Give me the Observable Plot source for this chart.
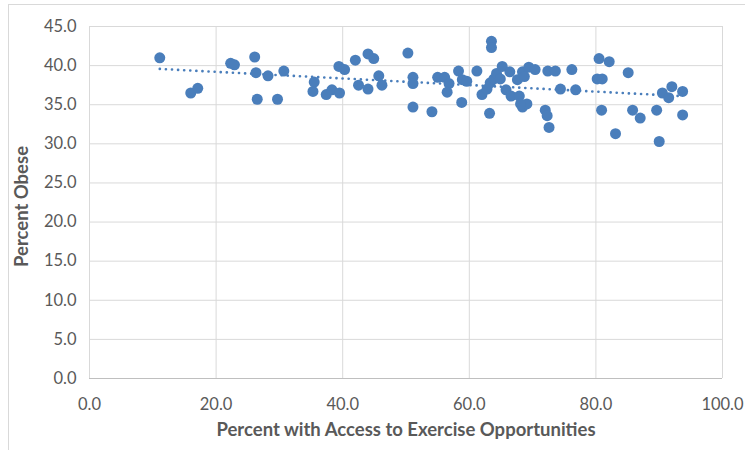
<!DOCTYPE html>
<html>
<head>
<meta charset="utf-8">
<script src="https://cdn.jsdelivr.net/npm/d3@7"></script>
<script src="https://cdn.jsdelivr.net/npm/@observablehq/plot@0.6"></script>
<style>
  html, body { margin: 0; padding: 0; background: #fff; overflow: hidden; }
  #wrap { position: relative; width: 745px; height: 450px; overflow: hidden; }
  #border { position: absolute; left: 8px; top: 4px; width: 800px; height: 500px; border: 1px solid #d9d9d9; box-sizing: border-box; }
  #chart { position: absolute; left: 0; top: 0; }
</style>
</head>
<body>
<div id="wrap"><div id="border"></div><div id="chart"></div></div>
<script>
const xAccess = [11.1,16.0,17.1,22.3,22.9,26.1,26.3,26.5,28.2,29.7,30.7,35.5,35.3,37.4,38.3,39.5,39.4,40.3,42.0,42.5,
  44.0,44.0,44.9,45.7,46.2,50.3,51.1,51.1,51.1,54.1,55.0,56.1,56.8,56.5,58.3,58.8,58.9,59.6,61.2,62.0,
  63.2,63.5,63.5,62.8,63.3,63.9,64.3,65.2,64.9,65.8,66.4,66.6,67.6,67.9,68.4,68.4,68.7,69.1,69.4,70.4,
  72.4,73.6,72.0,72.3,72.6,74.4,76.2,76.8,80.5,82.1,80.2,81.0,85.1,80.9,83.1,85.8,87.0,89.6,90.0,90.5,
  91.5,92.0,93.7,93.7,68.1];
const yObese = [41.0,36.5,37.1,40.3,40.1,41.1,39.1,35.7,38.7,35.7,39.3,37.9,36.7,36.3,36.9,36.5,39.9,39.5,40.7,37.5,
  41.5,37.0,40.9,38.7,37.5,41.6,38.5,37.7,34.7,34.1,38.5,38.5,37.7,36.6,39.3,35.3,38.2,38.0,39.3,36.3,
  33.9,43.1,42.3,37.0,37.8,38.3,39.0,39.9,38.3,36.9,39.2,36.1,38.2,36.1,39.2,34.7,38.6,35.1,39.8,39.5,
  39.3,39.3,34.3,33.6,32.1,37.0,39.5,36.9,40.9,40.5,38.3,38.3,39.1,34.3,31.3,34.3,33.3,34.3,30.3,36.5,
  35.9,37.3,36.7,33.7,35.1];
const xTicks = [0, 20, 40, 60, 80, 100];
const yTicks = [0, 5, 10, 15, 20, 25, 30, 35, 40, 45];
const xTitle = "Percent with Access to Exercise Opportunities";
const yTitle = "Percent Obese";

const data = xAccess.map((x, i) => ({x, y: yObese[i]}));
const fmt = d => d.toFixed(1);
const blue = "#4a7ebb";

const chart = Plot.plot({
  width: 745,
  height: 450,
  marginLeft: 89,
  marginRight: 23,
  marginTop: 26,
  marginBottom: 72,
  style: {fontFamily: "Lato, 'Open Sans', sans-serif", fontSize: "16.5px", color: "#595959", background: "transparent", overflow: "visible"},
  x: {domain: [0, 100]},
  y: {domain: [0, 45]},
  marks: [
    Plot.gridX(xTicks, {stroke: "#d9d9d9", strokeOpacity: 1}),
    Plot.gridY(yTicks, {stroke: "#d9d9d9", strokeOpacity: 1}),
    Plot.ruleY([0], {stroke: "#bfbfbf"}),
    Plot.axisX(xTicks, {tickSize: 0, tickPadding: 20, tickFormat: fmt, label: null, fill: "#595959"}),
    Plot.axisY(yTicks, {tickSize: 0, tickPadding: 13, tickFormat: fmt, label: null, fill: "#595959"}),
    Plot.linearRegressionY(data, {x: "x", y: "y", ci: 0, stroke: blue, strokeWidth: 2.6, strokeDasharray: "0.1 6", strokeLinecap: "round"}),
    Plot.dot(data, {x: "x", y: "y", r: 5.5, fill: blue, stroke: null}),
    Plot.text([yTitle], {frameAnchor: "left", textAnchor: "middle", rotate: -90, dx: -67, dy: 4, fontWeight: "bold", fontSize: 18.5, fill: "#595959"}),
    Plot.text([xTitle], {frameAnchor: "bottom", dy: 57, fontWeight: "bold", fontSize: 18.5, fill: "#595959"})
  ]
});
document.getElementById("chart").appendChild(chart);
</script>
</body>
</html>
